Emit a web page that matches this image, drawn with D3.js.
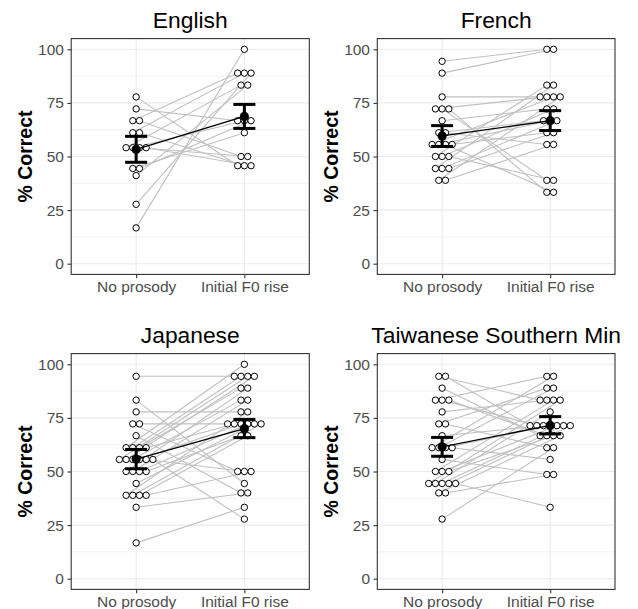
<!DOCTYPE html>
<html><head><meta charset="utf-8">
<script src="https://cdn.jsdelivr.net/npm/d3@7/dist/d3.min.js"></script>
<style>
body{margin:0;background:#fff;}
svg{display:block;font-family:"Liberation Sans",Arial,Helvetica,sans-serif;}
</style></head>
<body><svg id="chart" width="638" height="609"></svg>
<script>
const categories = ["No prosody", "Initial F0 rise"];
const panelTitles = ["English", "French", "Japanese", "Taiwanese Southern Min"];
const yTicks = [0, 25, 50, 75, 100];
const yMinor = [12.5, 37.5, 62.5, 87.5];

// paired participant scores (% correct): index i = same participant
const englishNo   = [77.8, 72.2, 66.7, 66.7, 61.1, 61.1, 54.1, 54.1, 54.1, 54.1, 44.4, 44.4, 41.1, 27.7, 16.7];
const englishInit = [45.7, 66.7, 88.9, 50.0, 88.9, 45.7, 83.3, 66.7, 50.0, 45.7, 61.1, 66.7, 83.3, 88.9, 100];

const frenchNo   = [94.4, 88.9, 77.8, 72.2, 72.2, 72.2, 66.7, 61.1, 61.1, 55.6, 55.6, 55.6, 55.6, 50.0, 50.0, 50.0, 44.4, 44.4, 44.4, 38.9, 38.9];
const frenchInit = [100, 100, 77.8, 77.8, 38.9, 33.3, 72.2, 66.7, 55.6, 77.8, 66.7, 33.3, 61.1, 83.3, 72.2, 38.9, 83.3, 66.7, 61.1, 77.8, 55.6];

const japaneseNo   = [94.4, 83.3, 77.8, 72.2, 72.2, 66.7, 61.1, 61.1, 61.1, 61.1, 55.6, 55.6, 55.6, 55.6, 55.6, 55.6, 50.0, 50.0, 50.0, 50.0, 44.4, 38.9, 38.9, 38.9, 38.9, 33.3, 16.7];
const japaneseInit = [94.4, 44.4, 77.8, 50.0, 72.2, 40.0, 100, 94.4, 88.9, 72.2, 94.4, 94.4, 83.3, 72.2, 50.0, 27.8, 88.9, 83.3, 72.2, 66.7, 72.2, 77.8, 72.2, 66.7, 50.0, 40.0, 33.3];

const taiwaneseNo   = [94.4, 94.4, 88.9, 83.3, 83.3, 83.3, 77.8, 72.2, 72.2, 66.7, 61.1, 61.1, 61.1, 61.1, 55.6, 50.0, 50.0, 50.0, 44.4, 44.4, 44.4, 44.4, 44.4, 40.0, 40.0, 27.8];
const taiwaneseInit = [83.3, 71.4, 66.7, 94.4, 71.4, 66.7, 83.3, 88.9, 61.1, 71.4, 94.4, 88.9, 71.4, 55.6, 48.6, 83.3, 71.4, 66.7, 83.3, 77.8, 71.4, 71.4, 33.3, 66.7, 48.6, 61.1];

// condition means and error bar bounds [No prosody, Initial F0 rise]
const means   = [[53.3, 68.7], [59.6, 66.7], [55.8, 70.0], [61.5, 71.5]];
const errLow  = [[47.3, 63.1], [54.7, 62.1], [51.3, 65.8], [57.1, 67.5]];
const errHigh = [[59.4, 74.3], [64.4, 71.4], [60.3, 74.3], [65.9, 75.6]];

const noData = [englishNo, frenchNo, japaneseNo, taiwaneseNo];
const initData = [englishInit, frenchInit, japaneseInit, taiwaneseInit];

const svg = d3.select("#chart");
const colX = [[71.2, 309.3], [377.3, 615]];
const rowY = [[38.6, 274.4], [353.6, 589.4]];
const dodge = 6.7;

function dodgeOffsets(vals) {
  const groups = new Map();
  vals.forEach((v, i) => {
    const k = Math.round(v * 10);
    if (!groups.has(k)) groups.set(k, []);
    groups.get(k).push(i);
  });
  const off = new Array(vals.length).fill(0);
  groups.forEach(idx => {
    const n = idx.length;
    idx.forEach((i, j) => { off[i] = (j - (n - 1) / 2) * dodge; });
  });
  return off;
}

panelTitles.forEach((title, p) => {
  const [x0, x1] = colX[p % 2];
  const [y0, y1] = rowY[Math.floor(p / 2)];
  const x = d3.scalePoint().domain(categories).range([x0, x1]).padding(0.6);
  const y = d3.scaleLinear().domain([-5, 105]).range([y1, y0]);
  const g = svg.append("g");

  // grid
  g.selectAll(".minor").data(yMinor).join("line")
    .attr("x1", x0).attr("x2", x1).attr("y1", d => y(d)).attr("y2", d => y(d))
    .attr("stroke", "#ebebeb").attr("stroke-width", 0.6);
  g.selectAll(".major").data(yTicks).join("line")
    .attr("x1", x0).attr("x2", x1).attr("y1", d => y(d)).attr("y2", d => y(d))
    .attr("stroke", "#ebebeb").attr("stroke-width", 1.1);
  g.selectAll(".vmajor").data(categories).join("line")
    .attr("x1", d => x(d)).attr("x2", d => x(d)).attr("y1", y0).attr("y2", y1)
    .attr("stroke", "#ebebeb").attr("stroke-width", 1.1);

  const no = noData[p], ini = initData[p];
  const offNo = dodgeOffsets(no), offIni = dodgeOffsets(ini);
  const pairs = no.map((v, i) => ({
    x1: x(categories[0]) + offNo[i], y1: y(v),
    x2: x(categories[1]) + offIni[i], y2: y(ini[i])
  }));

  g.selectAll(".pair").data(pairs).join("line")
    .attr("x1", d => d.x1).attr("y1", d => d.y1).attr("x2", d => d.x2).attr("y2", d => d.y2)
    .attr("stroke", "#c0c0c0").attr("stroke-width", 1.1);

  const pts = pairs.flatMap(d => [{cx: d.x1, cy: d.y1}, {cx: d.x2, cy: d.y2}]);
  g.selectAll(".pt").data(pts).join("circle")
    .attr("cx", d => d.cx).attr("cy", d => d.cy).attr("r", 3.2)
    .attr("fill", "#fff").attr("stroke", "#000").attr("stroke-width", 1);

  // mean line
  g.append("line")
    .attr("x1", x(categories[0])).attr("y1", y(means[p][0]))
    .attr("x2", x(categories[1])).attr("y2", y(means[p][1]))
    .attr("stroke", "#000").attr("stroke-width", 1.4);

  categories.forEach((c, ci) => {
    const cx = x(c);
    const lo = y(errLow[p][ci]), hi = y(errHigh[p][ci]);
    g.append("line").attr("x1", cx).attr("x2", cx).attr("y1", lo).attr("y2", hi)
      .attr("stroke", "#000").attr("stroke-width", 3);
    [lo, hi].forEach(yy => g.append("line").attr("x1", cx - 11).attr("x2", cx + 11)
      .attr("y1", yy).attr("y2", yy).attr("stroke", "#000").attr("stroke-width", 3));
    g.append("circle").attr("cx", cx).attr("cy", y(means[p][ci])).attr("r", 4.6).attr("fill", "#000");
  });

  // border
  g.append("rect").attr("x", x0).attr("y", y0).attr("width", x1 - x0).attr("height", y1 - y0)
    .attr("fill", "none").attr("stroke", "#333333").attr("stroke-width", 1.1);

  // axes
  const ya = g.append("g").attr("transform", `translate(${x0},0)`)
    .call(d3.axisLeft(y).tickValues(yTicks).tickSize(3.8).tickPadding(3.5));
  const xa = g.append("g").attr("transform", `translate(0,${y1})`)
    .call(d3.axisBottom(x).tickSize(3.8).tickPadding(3));
  [ya, xa].forEach(a => {
    a.select(".domain").remove();
    a.selectAll(".tick line").attr("stroke", "#333333").attr("stroke-width", 1.1);
    a.selectAll(".tick text").attr("fill", "#4d4d4d").attr("font-size", 15.5)
      .attr("font-family", '"Liberation Sans",Arial,sans-serif');
  });

  // title
  g.append("text").attr("x", (x0 + x1) / 2).attr("y", y0 - 10.3)
    .attr("text-anchor", "middle").attr("font-size", 22.8).attr("fill", "#000").text(title);

  // y axis title
  g.append("text").attr("transform", `translate(${x0 - 39},${(y0 + y1) / 2}) rotate(-90)`)
    .attr("text-anchor", "middle").attr("font-size", 19.5).attr("font-weight", "bold")
    .attr("fill", "#000").text("% Correct");
});
</script></body></html>
